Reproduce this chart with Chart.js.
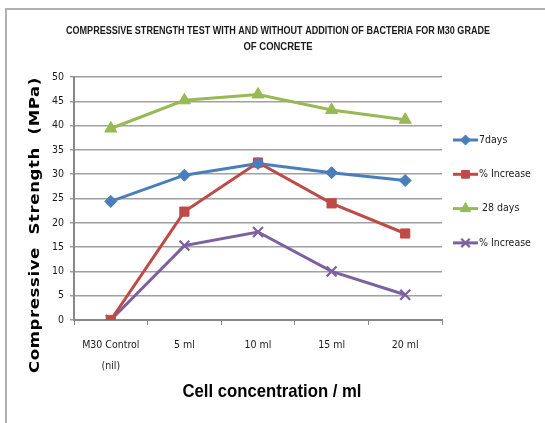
<!DOCTYPE html>
<html>
<head>
<meta charset="utf-8">
<script src="https://cdn.jsdelivr.net/npm/chart.js@4/dist/chart.umd.min.js"></script>
<style>
html,body{margin:0;padding:0;background:#fff;}
canvas{display:block;}
</style>
</head>
<body>
<canvas id="c" width="545" height="423"></canvas>
<script>
const categories = [["M30 Control", "(nil)"], "5 ml", "10 ml", "15 ml", "20 ml"];
const days7 = [24.4, 29.8, 32.2, 30.3, 28.7];
const increase7 = [0, 22.3, 32.4, 24.0, 17.8];
const days28 = [39.4, 45.2, 46.4, 43.2, 41.2];
const increase28 = [0, 15.3, 18.1, 10.0, 5.2];
const seriesLabels = ["7days", "% Increase", " 28 days", "% Increase"];
const titleLines = ["COMPRESSIVE STRENGTH TEST WITH AND WITHOUT ADDITION OF BACTERIA FOR M30 GRADE", "OF CONCRETE"];
const yTitle = "Compressive  Strength  (MPa)";
const xTitle = "Cell concentration / ml";

const colors = ["#4A7EBB", "#BE4B48", "#98B954", "#7D60A0"];
const styles = [
  {pointStyle: "rectRot", radius: 6},
  {pointStyle: "rect", radius: 6.5},
  {pointStyle: "triangle", radius: 7},
  {pointStyle: "crossRot", radius: 7}
];
const values = [days7, increase7, days28, increase28];

const datasets = values.map((v, i) => ({
  label: seriesLabels[i],
  data: v,
  borderColor: colors[i],
  backgroundColor: colors[i],
  borderWidth: 3,
  pointStyle: styles[i].pointStyle,
  pointRadius: styles[i].radius,
  pointBorderWidth: i === 3 ? 2.2 : 1,
  pointBackgroundColor: colors[i],
  pointBorderColor: colors[i],
  tension: 0
}));

function fitText(ctx, text, x, y, targetWidth) {
  const w = ctx.measureText(text).width;
  const s = targetWidth / w;
  ctx.save();
  ctx.translate(x, y);
  ctx.scale(s, 1);
  ctx.fillText(text, 0, 0);
  ctx.restore();
}

const decor = {
  id: "decor",
  beforeDraw(chart) {
    const ctx = chart.ctx;
    ctx.save();
    ctx.fillStyle = "#fff";
    ctx.fillRect(0, 0, chart.width, chart.height);
    ctx.strokeStyle = "#b0b0b0";
    ctx.lineWidth = 2;
    ctx.beginPath();
    ctx.moveTo(6, chart.height);
    ctx.lineTo(6, 9);
    ctx.lineTo(chart.width, 9);
    ctx.stroke();
    ctx.restore();
  },
  afterDraw(chart) {
    const ctx = chart.ctx;
    ctx.save();
    ctx.fillStyle = "#1a1a1a";
    ctx.textAlign = "center";
    ctx.textBaseline = "middle";
    // main title
    ctx.font = "bold 10.5px 'Liberation Sans'";
    fitText(ctx, titleLines[0], 278, 31, 424);
    fitText(ctx, titleLines[1], 278, 47, 69);
    // x title
    ctx.fillStyle = "#000";
    ctx.font = "bold 19px 'Liberation Sans'";
    fitText(ctx, xTitle, 272, 392, 179);
    // y title
    ctx.save();
    ctx.translate(35, 225);
    ctx.rotate(-Math.PI / 2);
    ctx.font = "bold 14px 'DejaVu Sans'";
    ctx.letterSpacing = "0.5px";
    fitText(ctx, yTitle, 0, 0, 296);
    ctx.restore();
    // legend
    ctx.textAlign = "left";
    ctx.font = "10.5px 'DejaVu Sans Condensed'";
    chart.data.datasets.forEach((ds, i) => {
      const y = 140 + i * 34.3;
      ctx.strokeStyle = ds.borderColor;
      ctx.lineWidth = 3;
      ctx.beginPath();
      ctx.moveTo(453, y);
      ctx.lineTo(478, y);
      ctx.stroke();
      ctx.fillStyle = ds.backgroundColor;
      ctx.strokeStyle = ds.borderColor;
      ctx.lineWidth = ds.pointBorderWidth;
      Chart.helpers.drawPoint(ctx, {pointStyle: ds.pointStyle, radius: ds.pointRadius - 1, borderWidth: ds.pointBorderWidth}, 465.5, y);
      ctx.fillStyle = "#1a1a1a";
      ctx.fillText(ds.label, 479, y);
    });
    ctx.restore();
  }
};

new Chart(document.getElementById("c"), {
  type: "line",
  data: {labels: categories, datasets: datasets},
  options: {
    responsive: false,
    animation: false,
    devicePixelRatio: 1,
    layout: {padding: {left: 0, right: 103, top: 77, bottom: 0}},
    plugins: {legend: {display: false}, title: {display: false}, tooltip: {enabled: false}},
    scales: {
      x: {
        offset: true,
        grid: {offset: true, drawOnChartArea: false, tickLength: 5, color: "#888", lineWidth: 1},
        border: {color: "#888", width: 2},
        ticks: {font: {family: "'DejaVu Sans Condensed'", size: 10.5, lineHeight: 2}, color: "#1a1a1a", padding: 10, maxRotation: 0},
        afterFit(s) { s.height = 103; }
      },
      y: {
        min: 0, max: 50,
        grid: {color: "#a0a0a0", lineWidth: 1.5, tickLength: 4},
        border: {color: "#888", width: 2},
        ticks: {stepSize: 5, font: {family: "'DejaVu Sans Condensed'", size: 10.5}, color: "#1a1a1a", padding: 6},
        afterFit(s) { s.width = 74; }
      }
    }
  },
  plugins: [decor]
});
</script>
</body>
</html>
